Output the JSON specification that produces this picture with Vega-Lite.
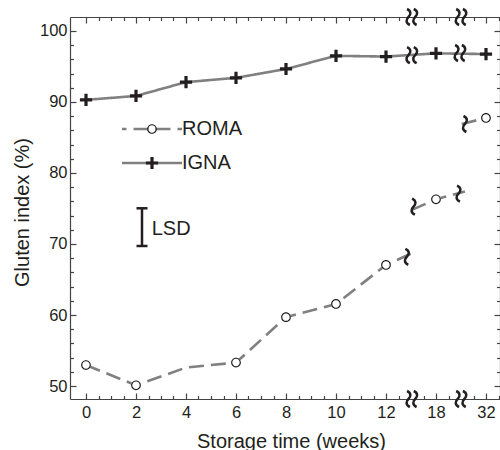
{
  "$schema": "https://vega.github.io/schema/vega-lite/v6.json",
  "width": 430,
  "height": 382,
  "autosize": {"type": "none"},
  "padding": {"left": 70, "top": 17, "right": 0, "bottom": 51},
  "background": "white",
  "config": {"view": {"stroke": null}, "axis": {"grid": false}},
  "datasets": {
    "gi": [
      {"series": "IGNA", "seg": "I", "week": 0, "gi": 90.3, "marker": true},
      {"series": "IGNA", "seg": "I", "week": 2, "gi": 90.85, "marker": true},
      {"series": "IGNA", "seg": "I", "week": 4, "gi": 92.8, "marker": true},
      {"series": "IGNA", "seg": "I", "week": 6, "gi": 93.4, "marker": true},
      {"series": "IGNA", "seg": "I", "week": 8, "gi": 94.65, "marker": true},
      {"series": "IGNA", "seg": "I", "week": 10, "gi": 96.5, "marker": true},
      {"series": "IGNA", "seg": "I", "week": 12, "gi": 96.4, "marker": true},
      {"series": "IGNA", "seg": "I", "week": 18, "gi": 96.85, "marker": true},
      {"series": "IGNA", "seg": "I", "week": 32, "gi": 96.75, "marker": true},
      {"series": "ROMA", "seg": "R1", "week": 0, "gi": 52.95, "marker": true},
      {"series": "ROMA", "seg": "R1", "week": 2, "gi": 50.1, "marker": true},
      {"series": "ROMA", "seg": "R1", "week": 4, "gi": 52.6, "marker": false},
      {"series": "ROMA", "seg": "R1", "week": 6, "gi": 53.3, "marker": true},
      {"series": "ROMA", "seg": "R1", "week": 8, "gi": 59.7, "marker": true},
      {"series": "ROMA", "seg": "R1", "week": 10, "gi": 61.55, "marker": true},
      {"series": "ROMA", "seg": "R1", "week": 12, "gi": 67.05, "marker": true},
      {"series": "ROMA", "seg": "R1", "week": 15.48, "gi": 68.9, "marker": false},
      {"series": "ROMA", "seg": "R2", "week": 15.1, "gi": 74.8, "marker": false},
      {"series": "ROMA", "seg": "R2", "week": 18, "gi": 76.3, "marker": true},
      {"series": "ROMA", "seg": "R2", "week": 26.1, "gi": 77.4, "marker": false},
      {"series": "ROMA", "seg": "R3", "week": 25.2, "gi": 86.9, "marker": false},
      {"series": "ROMA", "seg": "R3", "week": 32, "gi": 87.75, "marker": true}
    ],
    "breaks": [
      {"kind": "pair", "week": 15.1, "gi": 101.97},
      {"kind": "pair", "week": 25, "gi": 101.97},
      {"kind": "pair", "week": 15.1, "gi": 48.17},
      {"kind": "pair", "week": 25, "gi": 48.17},
      {"kind": "pair", "week": 15.1, "gi": 96.6},
      {"kind": "pair", "week": 24.7, "gi": 96.9},
      {"kind": "single", "week": 14.5, "gi": 68.2},
      {"kind": "single", "week": 15.3, "gi": 75.25},
      {"kind": "single", "week": 24.3, "gi": 77.1},
      {"kind": "single", "week": 26.1, "gi": 86.9}
    ],
    "lsd": [{"week": 2.24, "lo": 69.72, "hi": 75.03, "tx": 2.63, "ty": 72.1, "label": "LSD"}]
  },
  "resolve": {"axis": {"x": "independent", "y": "independent"}, "scale": {"x": "independent", "y": "independent"}},
  "layer": [
    {
      "data": {"name": "gi"},
      "mark": {"type": "line", "color": "#808080", "strokeWidth": 2.6},
      "encoding": {
        "x": {"field": "week", "type": "quantitative",
          "scale": {"domain": [-0.64, 12, 18, 32, 35.92], "range": [0, 316, 366, 416, 430], "nice": false, "zero": false},
          "axis": {"orient": "bottom", "values": [0, 0.5, 1, 1.5, 2, 2.5, 3, 3.5, 4, 4.5, 5, 5.5, 6, 6.5, 7, 7.5, 8, 8.5, 9, 9.5, 10, 10.5, 11, 11.5, 12, 13.5, 16.5, 18, 21.5, 28.5, 32, 35.5],
            "ticks": true, "tickSize": {"condition": {"test": "indexof([0,2,4,6,8,10,12,18,32], datum.value) >= 0", "value": -6}, "value": -3.5}, "tickColor": "#444", "tickWidth": 1.2,
            "labelExpr": "indexof([0,2,4,6,8,10,12,18,32], datum.value) >= 0 ? datum.label : ''",
            "domain": true, "domainColor": "#444", "domainWidth": 1.2, "grid": false, "labelPadding": 11, "labelFont": "Liberation Sans", "labelFontSize": 16.5, "labelColor": "#231f20", "labelFlush": false, "labelOverlap": false, "format": "d",
            "title": "Storage time (weeks)", "titleFont": "Liberation Sans", "titleFontSize": 20, "titleFontWeight": "normal", "titleColor": "#231f20", "titleX": 221, "titleY": 48, "titleAlign": "center", "titleBaseline": "alphabetic"}},
        "y": {"field": "gi", "type": "quantitative",
          "scale": {"domain": [48.17, 101.97], "nice": false, "zero": false},
          "axis": {"orient": "left", "values": [50, 52, 54, 56, 58, 60, 62, 64, 66, 68, 70, 72, 74, 76, 78, 80, 82, 84, 86, 88, 90, 92, 94, 96, 98, 100],
            "ticks": true, "tickSize": {"condition": {"test": "datum.value % 10 === 0", "value": -6}, "value": -3.5}, "tickColor": "#444", "tickWidth": 1.2,
            "labelExpr": "datum.value % 10 === 0 ? datum.label : ''",
            "domain": true, "domainColor": "#444", "domainWidth": 1.2, "grid": false, "labelPadding": 9, "labelFont": "Liberation Sans", "labelFontSize": 16.5, "labelColor": "#231f20", "labelFlush": false, "labelOverlap": false,
            "title": "Gluten index (%)", "titleFont": "Liberation Sans", "titleFontSize": 20, "titleFontWeight": "normal", "titleColor": "#231f20", "titleX": -41.5, "titleY": 195, "titleAngle": -90, "titleAlign": "center", "titleBaseline": "alphabetic"}},
        "strokeDash": {"field": "series", "type": "nominal", "sort": ["ROMA", "IGNA"],
          "scale": {"range": [[15, 7], [1, 0]]},
          "legend": {"orient": "none", "legendX": 72, "legendY": 102, "title": null, "padding": 0, "symbolType": "M-6,0H6", "symbolSize": 100, "symbolStrokeColor": "#808080", "symbolStrokeWidth": 2.6, "symbolDashOffset": 10.5, "labelFont": "Liberation Sans", "labelFontSize": 20, "labelColor": "#231f20", "labelOffset": 20, "rowPadding": 14}},
        "detail": {"field": "seg", "type": "nominal"}
      }
    },
    {
      "data": {"name": "gi"},
      "transform": [{"filter": "datum.marker && datum.series === 'ROMA'"}],
      "mark": {"type": "point", "shape": "circle", "filled": true, "fill": "white", "size": 95, "strokeWidth": 0, "opacity": 1},
      "encoding": {
        "x": {"field": "week", "type": "quantitative",
          "scale": {"domain": [-0.64, 12, 18, 32, 35.92], "range": [0, 316, 366, 416, 430], "nice": false, "zero": false}, "axis": null},
        "y": {"field": "gi", "type": "quantitative",
          "scale": {"domain": [48.17, 101.97], "nice": false, "zero": false}, "axis": null}
      }
    },
    {
      "data": {"name": "gi"},
      "transform": [{"filter": "datum.marker"}],
      "mark": {"type": "point", "filled": true, "color": "#231f20", "size": 95, "strokeWidth": 0, "opacity": 1},
      "encoding": {
        "x": {"field": "week", "type": "quantitative",
          "scale": {"domain": [-0.64, 12, 18, 32, 35.92], "range": [0, 316, 366, 416, 430], "nice": false, "zero": false},
          "axis": {"orient": "top", "values": [0, 0.5, 1, 1.5, 2, 2.5, 3, 3.5, 4, 4.5, 5, 5.5, 6, 6.5, 7, 7.5, 8, 8.5, 9, 9.5, 10, 10.5, 11, 11.5, 12, 13.5, 16.5, 18, 21.5, 28.5, 32, 35.5],
            "ticks": true, "tickSize": {"condition": {"test": "indexof([0,2,4,6,8,10,12,18,32], datum.value) >= 0", "value": -6}, "value": -3.5}, "tickColor": "#444", "tickWidth": 1.2,
            "labels": false, "domain": true, "domainColor": "#444", "domainWidth": 1.2, "grid": false, "title": null}},
        "y": {"field": "gi", "type": "quantitative",
          "scale": {"domain": [48.17, 101.97], "nice": false, "zero": false},
          "axis": {"orient": "right", "values": [50, 52, 54, 56, 58, 60, 62, 64, 66, 68, 70, 72, 74, 76, 78, 80, 82, 84, 86, 88, 90, 92, 94, 96, 98, 100],
            "ticks": true, "tickSize": {"condition": {"test": "datum.value % 10 === 0", "value": -6}, "value": -3.5}, "tickColor": "#444", "tickWidth": 1.2,
            "labels": false, "domain": true, "domainColor": "#444", "domainWidth": 1.2, "grid": false, "title": null}},
        "shape": {"field": "series", "type": "nominal", "sort": "descending",
          "scale": {"range": ["M1,0A1,1 0 1,0 -1,0A1,1 0 1,0 1,0ZM0.76,0A0.76,0.76 0 1,1 -0.76,0A0.76,0.76 0 1,1 0.76,0Z", "M-1.25,-0.33H-0.33V-1.25H0.33V-0.33H1.25V0.33H0.33V1.25H-0.33V0.33H-1.25Z"]},
          "legend": {"orient": "none", "legendX": 72, "legendY": 102, "title": null, "padding": 0, "symbolSize": 95, "symbolFillColor": "#231f20", "symbolStrokeWidth": 0, "labelFont": "Liberation Sans", "labelFontSize": 20, "labelOpacity": 0, "labelOffset": 20, "rowPadding": 14}}
      }
    },
    {
      "data": {"name": "breaks"},
      "transform": [{"filter": "datum.kind === 'pair'"}],
      "mark": {"type": "point", "filled": false, "size": 256, "stroke": "#231f20", "strokeWidth": 2.5, "opacity": 1,
        "shape": "M-0.6,-1C-0.05,-0.75 -0.1,-0.3 -0.42,0C-0.74,0.3 -0.8,0.75 -0.24,1M0.24,-1C0.8,-0.75 0.74,-0.3 0.42,0C0.1,0.3 0.05,0.75 0.6,1"},
      "encoding": {
        "x": {"field": "week", "type": "quantitative",
          "scale": {"domain": [-0.64, 12, 18, 32, 35.92], "range": [0, 316, 366, 416, 430], "nice": false, "zero": false}, "axis": null},
        "y": {"field": "gi", "type": "quantitative",
          "scale": {"domain": [48.17, 101.97], "nice": false, "zero": false}, "axis": null}
      }
    },
    {
      "data": {"name": "breaks"},
      "transform": [{"filter": "datum.kind === 'single'"}],
      "mark": {"type": "point", "filled": false, "size": 256, "stroke": "#231f20", "strokeWidth": 2.5, "opacity": 1,
        "shape": "M-0.18,-1C0.38,-0.75 0.32,-0.3 0,0C-0.32,0.3 -0.38,0.75 0.18,1"},
      "encoding": {
        "x": {"field": "week", "type": "quantitative",
          "scale": {"domain": [-0.64, 12, 18, 32, 35.92], "range": [0, 316, 366, 416, 430], "nice": false, "zero": false}, "axis": null},
        "y": {"field": "gi", "type": "quantitative",
          "scale": {"domain": [48.17, 101.97], "nice": false, "zero": false}, "axis": null}
      }
    },
    {
      "data": {"name": "lsd"},
      "mark": {"type": "rule", "color": "#231f20", "strokeWidth": 2.5},
      "encoding": {
        "x": {"field": "week", "type": "quantitative",
          "scale": {"domain": [-0.64, 12, 18, 32, 35.92], "range": [0, 316, 366, 416, 430], "nice": false, "zero": false}, "axis": null},
        "y": {"field": "lo", "type": "quantitative",
          "scale": {"domain": [48.17, 101.97], "nice": false, "zero": false}, "axis": null},
        "y2": {"field": "hi"}
      }
    },
    {
      "data": {"name": "lsd"},
      "mark": {"type": "tick", "orient": "horizontal", "color": "#231f20", "size": 11, "thickness": 2.5, "opacity": 1},
      "encoding": {
        "x": {"field": "week", "type": "quantitative",
          "scale": {"domain": [-0.64, 12, 18, 32, 35.92], "range": [0, 316, 366, 416, 430], "nice": false, "zero": false}, "axis": null},
        "y": {"field": "lo", "type": "quantitative",
          "scale": {"domain": [48.17, 101.97], "nice": false, "zero": false}, "axis": null}
      }
    },
    {
      "data": {"name": "lsd"},
      "mark": {"type": "tick", "orient": "horizontal", "color": "#231f20", "size": 11, "thickness": 2.5, "opacity": 1},
      "encoding": {
        "x": {"field": "week", "type": "quantitative",
          "scale": {"domain": [-0.64, 12, 18, 32, 35.92], "range": [0, 316, 366, 416, 430], "nice": false, "zero": false}, "axis": null},
        "y": {"field": "hi", "type": "quantitative",
          "scale": {"domain": [48.17, 101.97], "nice": false, "zero": false}, "axis": null}
      }
    },
    {
      "data": {"name": "lsd"},
      "mark": {"type": "text", "align": "left", "baseline": "middle", "font": "Liberation Sans", "fontSize": 20, "color": "#231f20"},
      "encoding": {
        "x": {"field": "tx", "type": "quantitative",
          "scale": {"domain": [-0.64, 12, 18, 32, 35.92], "range": [0, 316, 366, 416, 430], "nice": false, "zero": false}, "axis": null},
        "y": {"field": "ty", "type": "quantitative",
          "scale": {"domain": [48.17, 101.97], "nice": false, "zero": false}, "axis": null},
        "text": {"field": "label"}
      }
    }
  ]
}
